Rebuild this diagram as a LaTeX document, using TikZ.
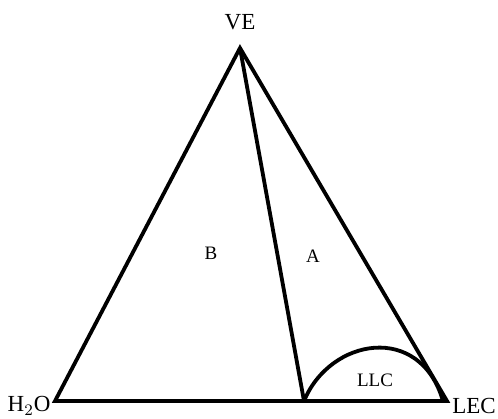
\documentclass[tikz,border=0pt]{standalone}
\usepackage{fontspec}
\setmainfont{Liberation Serif}
\usetikzlibrary{positioning}

\begin{document}
\begin{tikzpicture}[
  x=0.5pt, y=-0.5pt,
  edge/.style={draw=black, line width=1.9pt, line join=miter},
  vlab/.style={font=\fontsize{11.5}{13}\selectfont, inner sep=1pt},
  rlab/.style={font=\fontsize{9.5}{11}\selectfont, inner sep=1pt}
]
  \useasboundingbox (0,0) rectangle (498,418);
  % corners of the triangle
  \coordinate (ve) at (240,48);
  \coordinate (h2o) at (55,401);
  \coordinate (lec) at (447,401);
  \coordinate (foot) at (304,401);
  \coordinate (llcend) at (443,401);
  % triangle and tie line
  \draw[edge] (h2o) -- (ve) -- (lec) -- cycle;
  \draw[edge] (ve) -- (foot);
  \draw[edge] (foot) .. controls (330,338) and (420,322) .. (llcend);
  % labels
  \node[vlab] (velab) at (240,22) {VE};
  \node[vlab] (h2olab) at (29,406) {H$_2$O};
  \node[vlab] (leclab) at (474,406) {LEC};
  \node[rlab] (blab) at (211,253) {B};
  \node[rlab] (alab) at (313,256) {A};
  \node[rlab] (llclab) at (375,380) {LLC};
\end{tikzpicture}
\end{document}
